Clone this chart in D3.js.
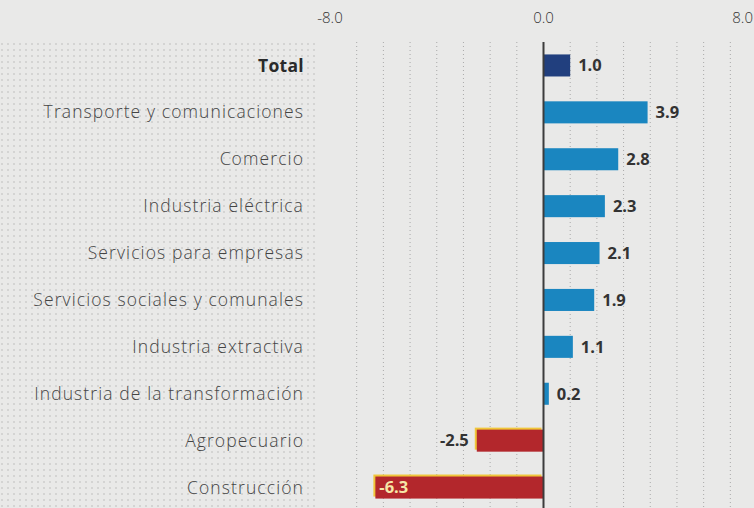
<!DOCTYPE html>
<html>
<head>
<meta charset="utf-8">
<script src="https://cdn.jsdelivr.net/npm/d3@7"></script>
<style>
  html, body { margin: 0; padding: 0; background: #e9e9e8; }
  svg { display: block; font-family: "Open Sans", Lato, sans-serif; }
</style>
</head>
<body>
<svg id="chart" width="754" height="508"></svg>
<script>
// data
const sectors = [
  "Total",
  "Transporte y comunicaciones",
  "Comercio",
  "Industria eléctrica",
  "Servicios para empresas",
  "Servicios sociales y comunales",
  "Industria extractiva",
  "Industria de la transformación",
  "Agropecuario",
  "Construcción"
];
const growth = [1.0, 3.9, 2.8, 2.3, 2.1, 1.9, 1.1, 0.2, -2.5, -6.3];
const tickValues = [-8, 0, 8];

const svg = d3.select("#chart");
const width = 754, height = 508;

// plain hyphen for negatives, like the print
const fmt = d3.formatLocale({ decimal: ".", thousands: ",", grouping: [3], currency: ["", ""], minus: "-" }).format(".1f");

const x = d3.scaleLinear().domain([-8, 8]).range([330, 757]);
const y = d3.scaleBand().domain(sectors).range([42, 511])
  .paddingInner(0.53).paddingOuter(0.265);

const rows = sectors.map((s, i) => ({ name: s, value: growth[i] }));

// halftone-ish dotted texture behind the labels
const defs = svg.append("defs");
defs.append("pattern")
  .attr("id", "dots")
  .attr("width", 6).attr("height", 6)
  .attr("patternUnits", "userSpaceOnUse")
  .append("circle")
  .attr("cx", 2).attr("cy", 2).attr("r", 0.8)
  .attr("fill", "#b9b9b9");

svg.append("rect")
  .attr("x", 0).attr("y", 40)
  .attr("width", 318).attr("height", height - 40)
  .attr("fill", "url(#dots)");

// dotted gridlines, one per unit
svg.append("g")
  .selectAll("line")
  .data(d3.range(-7, 9).filter(v => v !== 0))
  .join("line")
  .attr("x1", d => x(d)).attr("x2", d => x(d))
  .attr("y1", 42).attr("y2", height)
  .attr("stroke", "#a9a9a9")
  .attr("stroke-width", 1)
  .attr("stroke-dasharray", "1,3");

// top axis labels (last one pulled in so it stays on the page)
svg.append("g")
  .selectAll("text")
  .data(tickValues)
  .join("text")
  .attr("x", d => d === 8 ? 753 : x(d))
  .attr("y", 23)
  .attr("text-anchor", d => d === 8 ? "end" : "middle")
  .attr("font-size", 15)
  .attr("font-weight", 300)
  .attr("fill", "#333")
  .text(d => fmt(d));

// yellow misregistration edge on the red bars
svg.append("g")
  .selectAll("rect")
  .data(rows.filter(d => d.value < 0))
  .join("rect")
  .attr("x", d => x(d.value) - 2)
  .attr("y", d => y(d.name) - 2)
  .attr("width", d => x(0) - x(d.value))
  .attr("height", y.bandwidth())
  .attr("fill", "#f0c63a");

// bars
svg.append("g")
  .selectAll("rect")
  .data(rows)
  .join("rect")
  .attr("x", d => x(Math.min(0, d.value)))
  .attr("y", d => y(d.name))
  .attr("width", d => Math.abs(x(d.value) - x(0)))
  .attr("height", y.bandwidth())
  .attr("fill", d => d.name === "Total" ? "#213f7e" : (d.value < 0 ? "#b3272c" : "#1a86c0"));

// zero line
svg.append("line")
  .attr("x1", x(0)).attr("x2", x(0))
  .attr("y1", 42).attr("y2", height)
  .attr("stroke", "#3c3c3c")
  .attr("stroke-width", 2);

// category labels
svg.append("g")
  .selectAll("text")
  .data(rows)
  .join("text")
  .attr("x", 304)
  .attr("y", d => y(d.name) + y.bandwidth() / 2)
  .attr("dy", "0.35em")
  .attr("text-anchor", "end")
  .attr("font-size", 17.5)
  .attr("letter-spacing", d => d.name === "Total" ? 0.3 : 1.1)
  .attr("font-weight", d => d.name === "Total" ? 700 : 300)
  .attr("fill", d => d.name === "Total" ? "#2a2a2a" : "#444")
  .text(d => d.name);

// value labels; long negative bars carry the number inside
const inside = d => d.value < 0 && x(0) - x(d.value) > 100;
svg.append("g")
  .selectAll("text")
  .data(rows)
  .join("text")
  .attr("x", d => {
    if (d.value >= 0) return x(d.value) + 8;
    if (inside(d)) return x(d.value) + 4;
    return x(d.value) - 8;
  })
  .attr("y", d => y(d.name) + y.bandwidth() / 2)
  .attr("dy", "0.35em")
  .attr("text-anchor", d => (d.value < 0 && !inside(d)) ? "end" : "start")
  .attr("font-size", 16.5)
  .attr("font-weight", 700)
  .attr("fill", d => inside(d) ? "#f6e7a8" : "#333")
  .text(d => fmt(d.value));
</script>
</body>
</html>
